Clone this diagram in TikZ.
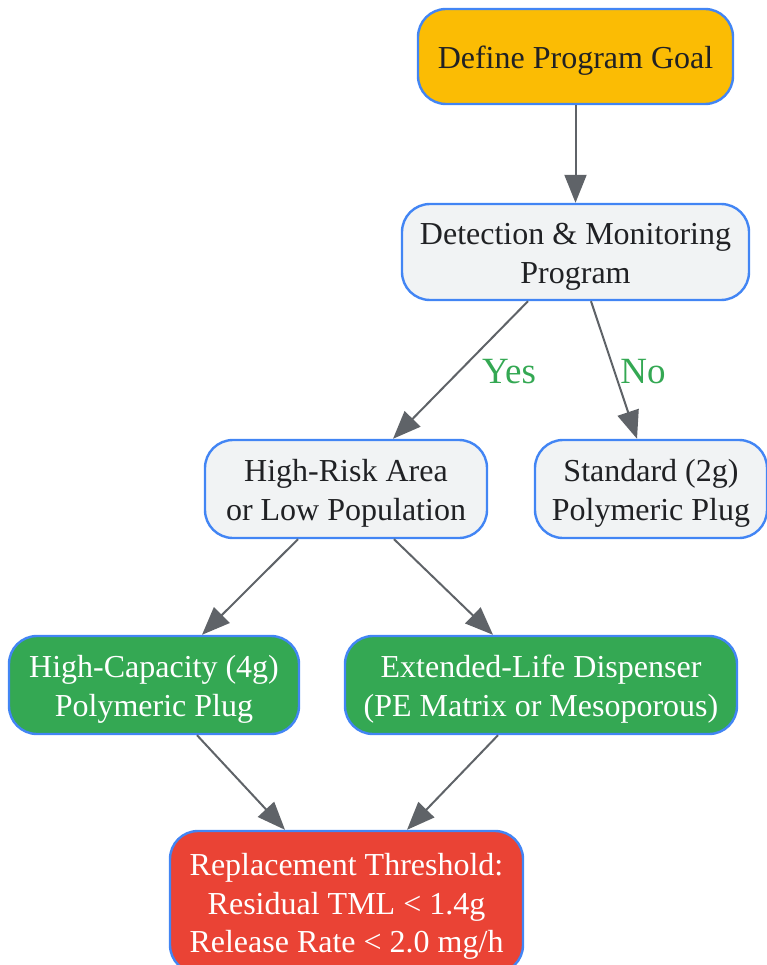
\documentclass[tikz,border=0pt]{standalone}
\usepackage{fontspec}
\setmainfont{Liberation Serif}
\usetikzlibrary{arrows.meta,calc}
\definecolor{bordblue}{HTML}{4285F4}
\definecolor{goalyel}{HTML}{FBBC04}
\definecolor{lightg}{HTML}{F1F3F4}
\definecolor{gooGreen}{HTML}{34A853}
\definecolor{gooRed}{HTML}{EA4335}
\definecolor{txtdark}{HTML}{202124}
\definecolor{edgegray}{HTML}{5F6368}
\newcommand\lowtxt[1]{\raisebox{-4.5pt}[\height][\depth]{\begin{tabular}{@{}c@{}}#1\end{tabular}}}
\tikzset{
  box/.style={draw=bordblue, line width=2.4pt, rounded corners=28pt, inner sep=0pt,
    font=\fontsize{32}{38.5}\selectfont},
  lightbox/.style={box, fill=lightg, text=txtdark},
  goalbox/.style={box, fill=goalyel, text=txtdark},
  greenbox/.style={box, fill=gooGreen, text=white},
  redbox/.style={box, fill=gooRed, text=white},
  conn/.style={draw=edgegray, line width=2pt, -{Triangle[length=28pt,width=22pt]}},
  elabel/.style={text=gooGreen, font=\fontsize{37}{42}\selectfont, inner sep=0pt}
}
\begin{document}
\begin{tikzpicture}[x=1pt,y=-1pt]
\useasboundingbox (0,0) rectangle (766,965);
\node[goalbox, minimum width=315pt, minimum height=95pt] (goal) at (575.5,56.5) {\lowtxt{Define Program Goal}};
\node[lightbox, minimum width=347pt, minimum height=96pt] (det) at (575.5,252) {\lowtxt{Detection \& Monitoring\\Program}};
\node[lightbox, minimum width=282pt, minimum height=98pt] (risk) at (346,489) {\lowtxt{High-Risk Area\\or Low Population}};
\node[lightbox, minimum width=232pt, minimum height=98pt] (std) at (651,489) {\lowtxt{Standard (2g)\\Polymeric Plug}};
\node[greenbox, minimum width=290pt, minimum height=98pt] (cap) at (154,685) {\lowtxt{High-Capacity (4g)\\Polymeric Plug}};
\node[greenbox, minimum width=392pt, minimum height=98pt] (ext) at (541,685) {\lowtxt{Extended-Life Dispenser\\(PE Matrix or Mesoporous)}};
\node[redbox, minimum width=353pt, minimum height=142pt] (rep) at (346.5,902) {\lowtxt{Replacement Threshold:\\Residual TML < 1.4g\\Release Rate < 2.0 mg/h}};

\draw[conn] (goal.south) -- (det.north);
\draw[conn] ([xshift=-47.5pt]det.south) -- ([xshift=47pt]risk.north);
\draw[conn] ([xshift=15.5pt]det.south) -- ([xshift=-14pt]std.north);
\draw[conn] ([xshift=-48pt]risk.south) -- ([xshift=48pt]cap.north);
\draw[conn] ([xshift=48pt]risk.south) -- ([xshift=-48pt]ext.north);
\draw[conn] ([xshift=43pt]cap.south) -- ([xshift=-61.5pt]rep.north);
\draw[conn] ([xshift=-43pt]ext.south) -- ([xshift=60.5pt]rep.north);

\node[elabel] (yes) at (509,372) {Yes};
\node[elabel] (no) at (643,372) {No};
\end{tikzpicture}
\end{document}
